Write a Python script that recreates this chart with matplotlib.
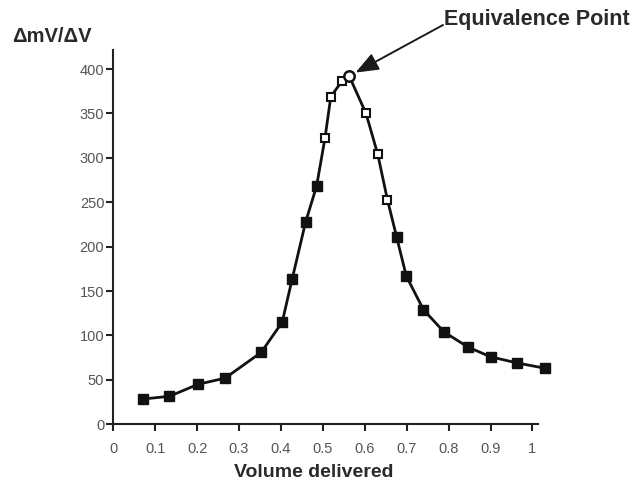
import matplotlib
matplotlib.use("Agg")
import matplotlib.pyplot as plt

volume = [0.072, 0.134, 0.202, 0.267, 0.353, 0.403, 0.427, 0.459, 0.485,
          0.505, 0.519, 0.545, 0.563, 0.603, 0.631, 0.654, 0.676,
          0.699, 0.740, 0.789, 0.846, 0.900, 0.964, 1.031]
dmv = [28.5, 31.5, 45, 52, 81, 115, 164, 228, 268,
       322, 369, 386, 392, 350, 304, 253, 211,
       167, 129, 104, 87, 76, 69, 63]
open_idx = [9, 10, 11, 13, 14, 15]
equiv_idx = 12
xticks = [0, 0.1, 0.2, 0.3, 0.4, 0.5, 0.6, 0.7, 0.8, 0.9, 1]
xticklabels = ["0", "0.1", "0.2", "0.3", "0.4", "0.5", "0.6", "0.7", "0.8", "0.9", "1"]
yticks = [0, 50, 100, 150, 200, 250, 300, 350, 400]

plt.rcParams['font.family'] = ['Liberation Sans', 'DejaVu Sans']

fig = plt.figure(figsize=(6.35, 4.86), dpi=100)
ax = fig.add_axes([0.1784, 0.1270, 0.6693, 0.7702])

ax.plot(volume, dmv, color='#111111', lw=2.0, zorder=2, clip_on=False)
filled = [i for i in range(len(volume)) if i not in open_idx and i != equiv_idx]
ax.plot([volume[i] for i in filled], [dmv[i] for i in filled], 's', color='#111111',
        ms=6.5, zorder=3, clip_on=False, lw=0)
ax.plot([volume[i] for i in open_idx], [dmv[i] for i in open_idx], 's', mfc='white',
        mec='#111111', mew=1.5, ms=5.5, zorder=3, clip_on=False, lw=0)
ax.plot([volume[equiv_idx]], [dmv[equiv_idx]], 'o', mfc='white', mec='#111111',
        mew=1.8, ms=7.5, zorder=4, clip_on=False, lw=0)

ax.set_xlim(0, 1.014)
ax.set_ylim(0, 421.5)
ax.set_xticks(xticks)
ax.set_xticklabels(xticklabels)
ax.set_yticks(yticks)
for s in ['top', 'right']:
    ax.spines[s].set_visible(False)
for s in ['left', 'bottom']:
    ax.spines[s].set_linewidth(1.5)
    ax.spines[s].set_color('#222222')
ax.tick_params(axis='both', direction='out', length=5, width=1.5, color='#222222',
               labelsize=10.5, labelcolor='#555555')
ax.tick_params(axis='x', pad=8)
ax.tick_params(axis='y', pad=1.5)

fig.text(12/635, 1 - 36/486, "ΔmV/ΔV", fontsize=14.5, fontweight='bold',
         color='#2a2a2a', va='center', ha='left')
fig.text(314/635, 1 - 472/486, "Volume delivered", fontsize=14, fontweight='bold',
         color='#2a2a2a', va='center', ha='center')

fig.text(444/635, 1 - 20/486, "Equivalence Point", fontsize=15.5, fontweight='bold',
         color='#2a2a2a', va='center', ha='left')
ax.annotate("", xy=(volume[equiv_idx] + 0.015, dmv[equiv_idx] + 4),
            xytext=(443/635, 1 - 25/486), textcoords='figure fraction',
            arrowprops=dict(arrowstyle='-|>,head_length=1.4,head_width=0.55',
                            color='#1a1a1a', lw=1.4, linestyle=(0, (1.5, 0.6)),
                            shrinkA=0, shrinkB=0))

fig.savefig("out.png", dpi=100)
